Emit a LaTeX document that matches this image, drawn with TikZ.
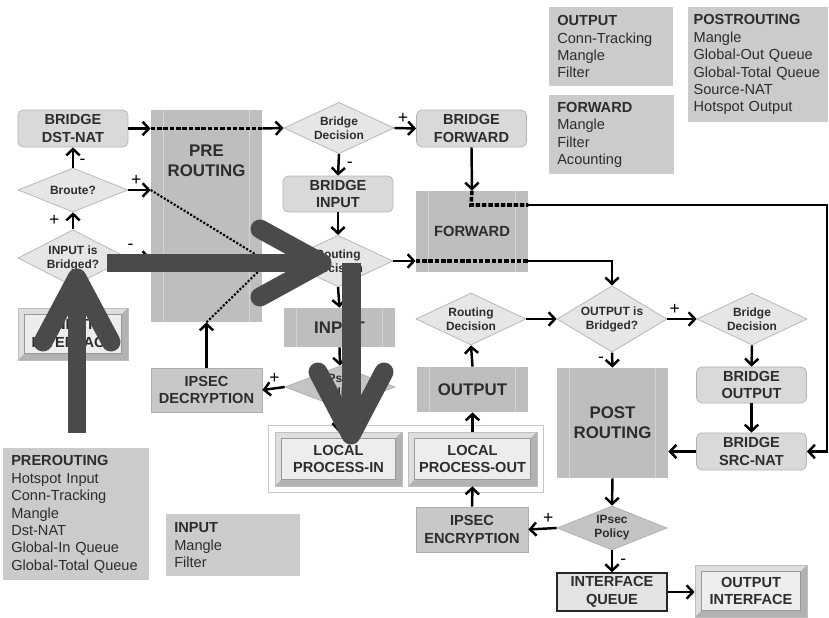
\documentclass[tikz,border=0pt]{standalone}
\usepackage{fontspec}
\setmainfont{Liberation Sans}
\usepackage{tikz}
\usetikzlibrary{arrows.meta,shapes.geometric,fit}
\definecolor{InkGray}{RGB}{45,45,45}
\definecolor{NoteGray}{RGB}{203,203,203}
\definecolor{BridgeGray}{RGB}{217,217,217}
\definecolor{DecisionGray}{RGB}{230,230,230}
\definecolor{PolicyGray}{RGB}{196,196,196}
\definecolor{ChainGray}{RGB}{190,190,190}
\definecolor{StripeGray}{RGB}{212,212,212}
\definecolor{IpsecGray}{RGB}{200,200,200}
\definecolor{EdgeGray}{RGB}{178,178,178}
\definecolor{HintGray}{RGB}{74,74,74}

\begin{document}
\begin{tikzpicture}[x=0.02cm,y=-0.02cm,>={Straight Barb[length=3.6pt,width=7.6pt]},text=InkGray,
	flow/.style={->,line width=1.4pt},
	dotflow/.style={line width=2pt,dash pattern=on 2.6pt off 1pt},
	dotthin/.style={line width=1.2pt,dash pattern=on 1.2pt off 1pt},
	pm/.style={font=\fontsize{10}{10}\selectfont,inner sep=1pt,text=black},
	bridgebox/.style={rectangle,rounded corners=3pt,draw=EdgeGray,fill=BridgeGray,minimum width=2.2cm,minimum height=0.74cm,inner sep=1pt,align=center,font=\fontsize{8.3}{10.2}\selectfont\bfseries},
	decision/.style={diamond,draw=EdgeGray,fill=DecisionGray,minimum width=2.2cm,minimum height=0.96cm,inner sep=-3pt,align=center,font=\fontsize{6.8}{7.9}\selectfont\bfseries},
	policy/.style={fill=PolicyGray,draw=black!32},
	chainbox/.style={rectangle,fill=ChainGray,minimum width=2.22cm,inner sep=0pt,align=center,font=\fontsize{9.6}{11.3}\selectfont\bfseries,
		path picture={\draw[StripeGray,line width=0.6pt]
			([xshift=7pt]path picture bounding box.north west) -- ([xshift=7pt]path picture bounding box.south west)
			([xshift=-7pt]path picture bounding box.north east) -- ([xshift=-7pt]path picture bounding box.south east);}},
	ipsecbox/.style={rectangle,draw=black!32,fill=IpsecGray,minimum width=2.22cm,minimum height=0.88cm,inner sep=1pt,align=center,font=\fontsize{8.3}{10.2}\selectfont\bfseries},
	bevelbox/.style={rectangle,draw=black!25,fill=black!13,inner sep=1pt,align=center,font=\fontsize{8.3}{10.2}\selectfont\bfseries,
		path picture={
			\fill[black!30] (path picture bounding box.south east) -- (path picture bounding box.north east)
			-- ([shift={(-3.5pt,-3.5pt)}]path picture bounding box.north east)
			-- ([shift={(-3.5pt,3.5pt)}]path picture bounding box.south east)
			-- ([shift={(3.5pt,3.5pt)}]path picture bounding box.south west)
			-- (path picture bounding box.south west) -- cycle;
			\draw[black!40,fill=black!7] ([shift={(3.5pt,-3.5pt)}]path picture bounding box.north west)
			rectangle ([shift={(-3.5pt,3.5pt)}]path picture bounding box.south east);}},
	queuebox/.style={rectangle,draw=black!85,line width=0.8pt,fill=black!11,minimum width=2.2cm,minimum height=0.76cm,inner sep=1pt,align=center,font=\fontsize{8.3}{10.2}\selectfont\bfseries},
	notebox/.style={rectangle,fill=NoteGray,anchor=north west,align=left,inner xsep=4.5pt,inner ysep=2pt,font=\fontsize{8.3}{9.9}\selectfont},
	bigshaft/.style={HintGray,line width=0.38cm},
	bigwing/.style={HintGray,line width=0.38cm,line cap=round,line join=round}]
	\useasboundingbox (0,0) rectangle (829,618);
	\fill[white] (0,0) rectangle (829,618);
	
	% Kotak keterangan chain
	\node[notebox,text width=2.16cm,minimum height=1.58cm] (noteout) at (549,7)
	{\textbf{OUTPUT}\\Conn-Tracking\\Mangle\\Filter};
	\node[notebox,text width=2.18cm,minimum height=1.58cm] (notefwd) at (549,95)
	{\textbf{FORWARD}\\Mangle\\Filter\\Acounting};
	\node[notebox,inner xsep=3pt,text width=2.59cm,minimum height=2.3cm] (notepost) at (688,7)
	{\textbf{POSTROUTING}\\Mangle\\Global-Out Queue\\Global-Total Queue\\Source-NAT\\Hotspot Output};
	\node[notebox,text width=2.6cm,minimum height=2.64cm] (notepre) at (3,448)
	{\textbf{PREROUTING}\\Hotspot Input\\Conn-Tracking\\Mangle\\Dst-NAT\\Global-In Queue\\Global-Total Queue};
	\node[notebox,text width=2.36cm,minimum height=1.24cm] (noteinp) at (166,514)
	{\textbf{INPUT}\\Mangle\\Filter};
	
	% Jalur masuk
	\node[chainbox,minimum height=4.24cm] (prer) at (206.5,216) {};
	\node[font=\fontsize{9.6}{11.3}\selectfont\bfseries,align=center] (prerlbl) at (206.5,161) {PRE\\ROUTING};
	\node[bridgebox] (bdnat) at (73,128.5) {BRIDGE\\DST-NAT};
	\node[decision,minimum height=0.88cm] (broute) at (73,190) {Broute?};
	\node[decision,minimum height=0.92cm] (inbr) at (73,258) {INPUT is\\Bridged?};
	\node[bevelbox,minimum width=2.2cm,minimum height=1.04cm] (inif) at (73,334) {INPUT\\INTERFACE};
	\node[ipsecbox] (ipdec) at (206.5,390) {IPSEC\\DECRYPTION};
	\coordinate (merge) at (268,262);
	
	% Jalur bridge dan input
	\node[decision] (bdec) at (339,128) {Bridge\\Decision};
	\node[bridgebox] (bfwd) at (471.5,128.5) {BRIDGE\\FORWARD};
	\node[bridgebox,minimum height=0.72cm] (binp) at (338,194) {BRIDGE\\INPUT};
	\node[decision,minimum height=1cm] (rdec1) at (338,261) {Routing\\Decision};
	\node[chainbox,minimum width=2.24cm,minimum height=1.62cm,font=\fontsize{8.4}{10}\selectfont\bfseries] (fwd) at (472,231.5) {FORWARD};
	\node[chainbox,minimum height=0.78cm] (inp) at (339.5,327.5) {INPUT};
	\node[decision,policy,minimum height=0.84cm] (ipol1) at (340,387) {IPsec\\Policy};
	\coordinate (fwdtap) at (471,205);
	\coordinate (rimtop) at (827,205);
	
	% Proses lokal
	\node[bevelbox,minimum width=2.54cm,minimum height=1.08cm] (lpin) at (338.5,459) {LOCAL\\PROCESS-IN};
	\node[bevelbox,minimum width=2.58cm,minimum height=1.08cm] (lpout) at (472.5,459) {LOCAL\\PROCESS-OUT};
	\node[draw=black!22,line width=0.9pt,inner sep=3.6pt,fit=(lpin)(lpout)] (localframe) {};
	
	% Jalur keluar
	\node[chainbox,minimum height=0.9cm] (outp) at (472.5,389.5) {OUTPUT};
	\node[decision,minimum height=1.04cm] (rdec2) at (471,319) {Routing\\Decision};
	\node[decision,minimum height=1.04cm] (obr) at (612,319) {OUTPUT is\\Bridged?};
	\node[decision,minimum height=1.04cm] (bdec2) at (752,319) {Bridge\\Decision};
	\node[bridgebox,minimum height=0.72cm] (bout) at (751.5,385) {BRIDGE\\OUTPUT};
	\node[bridgebox] (bsnat) at (751.5,451.5) {BRIDGE\\SRC-NAT};
	\node[chainbox,minimum height=2.2cm] (postr) at (612.5,423) {POST\\ROUTING};
	\node[decision,policy,minimum height=0.88cm] (ipol2) at (612,528) {IPsec\\Policy};
	\node[ipsecbox,minimum width=2.24cm,minimum height=0.9cm] (ipenc) at (472,529.5) {IPSEC\\ENCRYPTION};
	\node[queuebox] (ifq) at (612,592) {INTERFACE\\QUEUE};
	\node[bevelbox,minimum width=2.24cm,minimum height=1.04cm] (outif) at (751,591) {OUTPUT\\INTERFACE};
	
	% Panah masuk
	\draw[flow] (inbr.north) -- (broute.south) node[pm,midway,left=6pt] (pinbr) {+};
	\draw[flow] (broute.north) -- (bdnat.south) node[pm,pos=0.3,right=2pt] (mbroute) {-};
	\draw[flow] (broute.east) -- (broute.east -| prer.west) node[pm,pos=0.35,above=1pt] (pbroute) {+};
	\draw[flow] (inbr.east) -- (inbr.east -| prer.west) node[pm,pos=0.1,above=3pt] (minbr) {-};
	\draw[flow] (bdnat.east) -- (bdnat.east -| prer.west);
	\draw[dotflow] (bdnat.east -| prer.west) -- (bdnat.east -| prer.east);
	\draw[flow] (bdnat.east -| prer.east) -- (bdec.west);
	\draw[dotthin] (broute.east -| prer.west) -- (merge);
	\draw[flow] (ipdec.north) -- (ipdec.north |- prer.south);
	\draw[dotthin] (ipdec.north |- prer.south) -- (merge);
	
	% Panah bridge dan input
	\draw[flow] (bdec.east) -- (bfwd.west) node[pm,pos=0.4,above=1pt] (pbdec) {+};
	\draw[flow] (bdec.south) -- (binp.north) node[pm,midway,right=3pt] (mbdec) {-};
	\draw[flow] (binp.south) -- (rdec1.north);
	\draw[flow] (rdec1.south) -- (inp.north);
	\draw[flow] (inp.south) -- (ipol1.north);
	\draw[flow] (ipol1.west) -- (ipdec.east) node[pm,pos=0.45,above=1pt] (pipol1) {+};
	\draw[flow] (ipol1.south) -- (lpin.north);
	\draw[flow] (bfwd.south) -- (fwd.north);
	\draw[dotflow] (fwd.north) -- (fwdtap) -- (fwdtap -| fwd.east);
	\draw[flow] (fwdtap -| fwd.east) -- (rimtop) |- (bsnat.east);
	\draw[flow] (rdec1.east) -- (rdec1.east -| fwd.west);
	\draw[dotflow] (rdec1.east -| fwd.west) -- (rdec1.east -| fwd.east);
	\draw[flow] (rdec1.east -| fwd.east) -| (obr.north);
	
	% Panah keluar
	\draw[flow] (ipenc.north) -- (lpout.south);
	\draw[flow] (lpout.north) -- (outp.south);
	\draw[flow] (outp.north) -- (rdec2.south);
	\draw[flow] (rdec2.east) -- (obr.west);
	\draw[flow] (obr.east) -- (bdec2.west) node[pm,pos=0.25,above=1pt] (pobr) {+};
	\draw[flow] (obr.south) -- (postr.north) node[pm,midway,left=3pt] (mobr) {-};
	\draw[flow] (bdec2.south) -- (bout.north);
	\draw[flow] (bout.south) -- (bsnat.north);
	\draw[flow] (bsnat.west) -- (bsnat.west -| postr.east);
	\draw[flow] (postr.south) -- (ipol2.north);
	\draw[flow] (ipol2.west) -- (ipenc.east) node[pm,pos=0.3,above=1pt] (pipol2) {+};
	\draw[flow] (ipol2.south) -- (ifq.north) node[pm,midway,right=3pt] (mipol2) {-};
	\draw[flow] (ifq.east) -- (ifq.east -| outif.west);
	
	% Panah besar
	\coordinate (upfoot) at (77,433);
	\coordinate (uptip) at (77,278);
	\coordinate (hfoot) at (107,263);
	\coordinate (htip) at (322,263);
	\coordinate (dfoot) at (351,263);
	\coordinate (dtip) at (351,435);
	\draw[bigshaft] (upfoot) -- (uptip);
	\draw[bigwing] (43,342) -- (uptip) -- (111,342);
	\draw[bigshaft] (hfoot) -- (htip);
	\draw[bigwing] (260,229) -- (htip) -- (260,297);
	\draw[bigshaft] (dfoot) -- (dtip);
	\draw[bigwing] (318,372) -- (dtip) -- (384,372);
\end{tikzpicture}
\end{document}
